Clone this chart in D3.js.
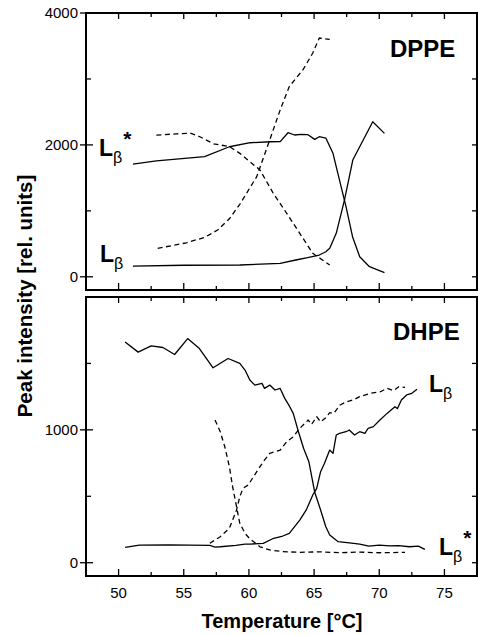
<!DOCTYPE html>
<html>
<head>
<meta charset="utf-8">
<script src="https://cdn.jsdelivr.net/npm/d3@7"></script>
<style>
body { margin: 0; background: #fff; }
text { font-family: "Liberation Sans", Arial, Helvetica, sans-serif; fill: #000; }
</style>
</head>
<body>
<svg id="chart"></svg>
<script>
/* axis values */
var X_DOMAIN = [47.5, 77.5];
var X_MAJOR = [50, 55, 60, 65, 70, 75];
var X_MINOR = [52.5, 57.5, 62.5, 67.5, 72.5];

var DPPE_DOMAIN = [-200, 4000];
var DPPE_MAJOR = [0, 2000, 4000];
var DPPE_MINOR = [1000, 3000];

var DHPE_DOMAIN = [-100, 2000];
var DHPE_MAJOR = [0, 1000];
var DHPE_MINOR = [500, 1500];

/* DPPE (top panel) */
var dppe_star_solid_t = [51.1, 52.9, 56.6, 58.5, 60.1, 61.6, 62.4, 63.0, 63.5, 64.0, 64.5, 65.05, 65.4, 65.9, 66.45, 66.95, 67.45, 67.95, 68.5, 69.25, 70.4];
var dppe_star_solid_v = [1707, 1757, 1823, 1972, 2033, 2048, 2050, 2185, 2150, 2160, 2157, 2084, 2124, 2104, 1872, 1467, 1063, 608, 305, 153, 62];

var dppe_beta_solid_t = [51.1, 55.0, 59.3, 62.4, 63.6, 64.5, 65.4, 65.9, 66.2, 66.7, 67.33, 67.97, 68.5, 69.5, 70.4];
var dppe_beta_solid_v = [163, 175, 179, 205, 255, 290, 330, 380, 432, 659, 1164, 1771, 1972, 2351, 2175];

var dppe_star_dash_t = [52.9, 54.45, 55.5, 56.2, 57.3, 58.5, 59.3, 60.85, 61.87, 62.9, 63.9, 64.9, 66.2];
var dppe_star_dash_v = [2148, 2168, 2178, 2127, 2016, 1975, 1872, 1619, 1266, 963, 660, 356, 179];

var dppe_beta_dash_t = [53.0, 55.2, 56.6, 57.6, 58.5, 59.3, 60.6, 61.6, 62.4, 63.1, 64.15, 64.9, 65.4, 66.2];
var dppe_beta_dash_v = [431, 516, 598, 709, 880, 1100, 1519, 2077, 2532, 2886, 3140, 3393, 3621, 3600];

/* DHPE (bottom panel) */
var dhpe_star_solid_t = [50.5, 51.5, 52.5, 53.4, 54.3, 55.3, 56.2, 57.25, 58.4, 59.3, 59.7, 60.07, 60.45, 61.0, 61.2, 61.6, 62.0, 62.4, 62.75, 63.1, 63.4, 63.8, 64.2, 64.6, 65.05, 65.5, 65.9, 66.2, 66.85, 67.7, 68.5, 69.2, 70.0, 70.8, 71.5, 72.3, 73.0, 73.5];
var dhpe_star_solid_v = [1662, 1585, 1632, 1620, 1567, 1687, 1612, 1467, 1537, 1500, 1450, 1375, 1337, 1350, 1312, 1337, 1300, 1312, 1237, 1180, 1124, 986, 860, 760, 530, 397, 271, 208, 158, 150, 140, 125, 133, 126, 128, 120, 125, 100];

var dhpe_beta_solid_t = [50.5, 51.6, 53.9, 57.0, 57.4, 57.8, 59.0, 59.7, 60.1, 61.1, 61.9, 62.6, 63.1, 63.9, 64.4, 64.9, 65.2, 65.5, 65.8, 66.2, 66.45, 66.7, 66.95, 67.45, 67.7, 68.1, 68.5, 68.9, 69.15, 69.55, 70.05, 70.6, 71.2, 71.4, 71.7, 72.1, 72.5, 72.9];
var dhpe_beta_solid_v = [115, 132, 135, 130, 118, 120, 130, 140, 140, 146, 184, 201, 221, 321, 397, 510, 560, 685, 748, 848, 823, 961, 974, 986, 999, 961, 986, 974, 1012, 1024, 1074, 1124, 1174, 1160, 1225, 1263, 1275, 1305];

var dhpe_star_dash_t = [57.4, 57.8, 58.15, 58.5, 58.75, 59.05, 59.3, 59.7, 60.07, 60.85, 61.6, 62.6, 63.9, 65.4, 67.0, 68.5, 70.0, 71.98];
var dhpe_star_dash_v = [1074, 986, 873, 723, 572, 422, 297, 221, 180, 120, 96, 83, 78, 82, 75, 80, 75, 78];

var dhpe_beta_dash_t = [57.0, 57.8, 58.5, 59.05, 59.3, 59.55, 59.95, 60.3, 60.7, 61.1, 61.6, 62.4, 62.9, 63.4, 63.9, 64.55, 64.8, 65.2, 65.5, 65.85, 66.2, 66.5, 67.0, 67.5, 68.0, 68.5, 69.3, 70.1, 70.6, 71.1, 71.5, 71.98];
var dhpe_beta_dash_v = [146, 196, 259, 397, 497, 560, 585, 640, 700, 760, 823, 848, 911, 948, 1011, 1074, 1040, 1099, 1060, 1087, 1130, 1124, 1187, 1212, 1225, 1250, 1275, 1287, 1313, 1295, 1325, 1320];

var W = 478, H = 635;
var FRAME_L = 86, FRAME_R = 477;

var svg = d3.select("#chart").attr("width", W).attr("height", H);
var x = d3.scaleLinear().domain(X_DOMAIN).range([FRAME_L, FRAME_R]);

function tick_lines(g, values, fn) {
    g.selectAll(null).data(values).enter().append("line")
        .attr("x1", function(d) { return fn(d)[0]; })
        .attr("y1", function(d) { return fn(d)[1]; })
        .attr("x2", function(d) { return fn(d)[2]; })
        .attr("y2", function(d) { return fn(d)[3]; })
        .attr("stroke", "#000")
        .attr("stroke-width", 1.3);
}

function draw_series(g, y, t, v, dashed) {
    var line = d3.line().x(function(d) { return x(d[0]); }).y(function(d) { return y(d[1]); });
    g.append("path")
        .datum(d3.zip(t, v))
        .attr("d", line)
        .attr("fill", "none")
        .attr("stroke", "#000")
        .attr("stroke-width", 1.3)
        .attr("stroke-linejoin", "round")
        .attr("stroke-dasharray", dashed ? "5,3.5" : null);
}

function draw_panel(p) {
    var y = d3.scaleLinear().domain(p.domain).range([p.bottom, p.top]);
    var g = svg.append("g");

    // x ticks, inward on bottom and top
    tick_lines(g, X_MAJOR, function(d) { return [x(d), p.bottom, x(d), p.bottom - 7]; });
    tick_lines(g, X_MINOR, function(d) { return [x(d), p.bottom, x(d), p.bottom - 4]; });
    tick_lines(g, X_MAJOR, function(d) { return [x(d), p.top, x(d), p.top + 6]; });
    tick_lines(g, X_MINOR, function(d) { return [x(d), p.top, x(d), p.top + 4]; });

    // y ticks: majors cross the left frame, minors inward; right side inward
    tick_lines(g, p.major, function(d) { return [FRAME_L - 6, y(d), FRAME_L + 7, y(d)]; });
    tick_lines(g, p.minor, function(d) { return [FRAME_L, y(d), FRAME_L + 5, y(d)]; });
    tick_lines(g, p.major.concat(p.minor), function(d) { return [FRAME_R, y(d), FRAME_R - 5, y(d)]; });

    g.selectAll(null).data(p.major).enter().append("text")
        .attr("x", FRAME_L - 8)
        .attr("y", function(d) { return y(d); })
        .attr("dy", "0.36em")
        .attr("text-anchor", "end")
        .style("font-size", "15px")
        .text(function(d) { return d; });

    g.append("rect")
        .attr("x", FRAME_L).attr("y", p.top)
        .attr("width", FRAME_R - FRAME_L).attr("height", p.bottom - p.top)
        .attr("fill", "none").attr("stroke", "#000").attr("stroke-width", 2);

    for (var i = 0; i < p.series.length; i++) {
        var s = p.series[i];
        draw_series(g, y, s[0], s[1], s[2]);
    }

    g.append("text")
        .attr("x", p.name_x).attr("y", p.name_y)
        .style("font-size", "24px").style("font-weight", "bold")
        .text(p.name);

    p.labels.forEach(function(l) {
        var t = g.append("text").attr("x", l.x).attr("y", l.y)
            .style("font-size", "23px").style("font-weight", "bold");
        t.append("tspan").text("L");
        t.append("tspan").attr("dy", 7).style("font-size", "16px").style("font-weight", "normal").text("\u03b2");
        if (l.star) {
            t.append("tspan").attr("dy", -17).attr("dx", 1).style("font-size", "21px").text("*");
        }
    });
    return y;
}

draw_panel({
    top: 13, bottom: 290, domain: DPPE_DOMAIN, major: DPPE_MAJOR, minor: DPPE_MINOR,
    name: "DPPE", name_x: 390, name_y: 57,
    series: [[dppe_star_solid_t, dppe_star_solid_v, false], [dppe_beta_solid_t, dppe_beta_solid_v, false],
             [dppe_star_dash_t, dppe_star_dash_v, true], [dppe_beta_dash_t, dppe_beta_dash_v, true]],
    labels: [{x: 99, y: 156, star: true}, {x: 100, y: 262, star: false}]
});

draw_panel({
    top: 297, bottom: 576, domain: DHPE_DOMAIN, major: DHPE_MAJOR, minor: DHPE_MINOR,
    name: "DHPE", name_x: 393, name_y: 340,
    series: [[dhpe_star_solid_t, dhpe_star_solid_v, false], [dhpe_beta_solid_t, dhpe_beta_solid_v, false],
             [dhpe_star_dash_t, dhpe_star_dash_v, true], [dhpe_beta_dash_t, dhpe_beta_dash_v, true]],
    labels: [{x: 429, y: 392, star: false}, {x: 439, y: 555, star: true}]
});

// x tick labels under the lower panel
svg.append("g").selectAll("text").data(X_MAJOR).enter().append("text")
    .attr("x", function(d) { return x(d); })
    .attr("y", 598)
    .attr("text-anchor", "middle")
    .style("font-size", "15px")
    .text(function(d) { return d; });

svg.append("text")
    .attr("x", 282).attr("y", 628)
    .attr("text-anchor", "middle")
    .style("font-size", "20px").style("font-weight", "bold")
    .text("Temperature [\u00b0C]");

svg.append("text")
    .attr("transform", "translate(32,296) rotate(-90)")
    .attr("text-anchor", "middle")
    .style("font-size", "20.5px").style("font-weight", "bold")
    .text("Peak intensity [rel. units]");
</script>
</body>
</html>
